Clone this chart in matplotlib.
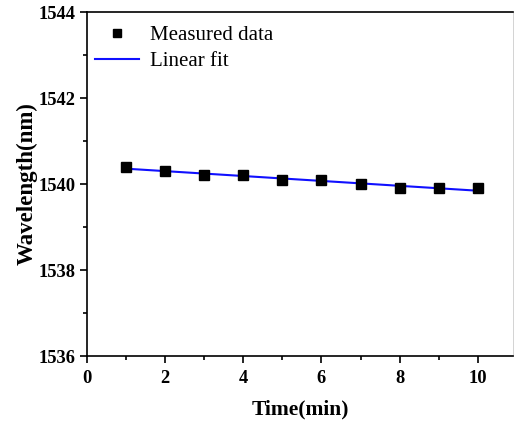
import numpy as np
import matplotlib
matplotlib.use("Agg")
import matplotlib.pyplot as plt
from matplotlib.ticker import MultipleLocator

time_min = [1, 2, 3, 4, 5, 6, 7, 8, 9, 10]
wavelength_nm = [1540.4, 1540.3, 1540.2, 1540.2, 1540.1, 1540.1, 1540.0, 1539.9, 1539.9, 1539.9]
x_ticks = [0, 2, 4, 6, 8, 10]
y_ticks = [1536, 1538, 1540, 1542, 1544]

plt.rcParams['font.family'] = ['Liberation Serif', 'DejaVu Serif']

fig = plt.figure(figsize=(5.16, 4.23), dpi=100)
ax = fig.add_axes([87/516, 1 - 356/423, (513 - 87)/516, (356 - 12)/423])

x = np.array(time_min, dtype=float)
y = np.array(wavelength_nm, dtype=float)
coef = np.polyfit(x, y, 1)
xf = np.array([x.min(), x.max()])
ax.plot(x, y, 's', color='black', markersize=6.5, label='Measured data', zorder=3)
ax.plot(xf, np.polyval(coef, xf), '-', color='#1010ff', lw=1.5, label='Linear fit', zorder=2)

ax.set_xlim(0, 10.9)
ax.set_ylim(1536, 1544)
ax.set_xticks(x_ticks)
ax.set_yticks(y_ticks)
ax.xaxis.set_minor_locator(MultipleLocator(1))
ax.yaxis.set_minor_locator(MultipleLocator(1))
ax.tick_params(which='both', direction='out', top=False, right=False, width=1.2)
ax.tick_params(which='major', length=5, labelsize=13.3)
ax.tick_params(axis='x', which='major', pad=5)
ax.tick_params(axis='y', which='major', pad=3)
ax.tick_params(which='minor', length=3)
for lab in ax.get_xticklabels() + ax.get_yticklabels():
    lab.set_fontweight('bold')

for s in ['left', 'bottom', 'top']:
    ax.spines[s].set_linewidth(1.2)
ax.spines['right'].set_linewidth(0.6)
ax.spines['right'].set_color('#cccccc')

ax.set_xlabel('Time(min)', fontsize=15.5, fontweight='bold', labelpad=9)
ax.set_ylabel('Wavelength(nm)', fontsize=16.5, fontweight='bold', labelpad=1)

leg = ax.legend(loc='upper left', bbox_to_anchor=(0.0, 0.985), frameon=False, fontsize=15,
                handlelength=2.1, borderaxespad=0.2, handletextpad=0.5, labelspacing=0.3,
                borderpad=0.2, markerscale=0.8)

fig.savefig('out.png', dpi=100)
